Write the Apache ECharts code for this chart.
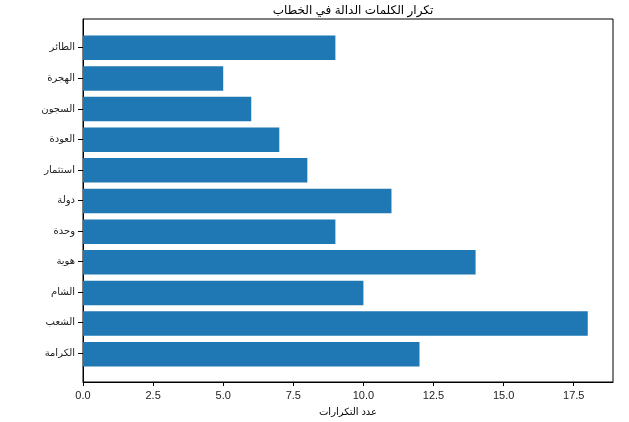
<!DOCTYPE html>
<html><head><meta charset="utf-8">
<script src="https://cdn.jsdelivr.net/npm/echarts@6/dist/echarts.min.js"></script>
<style>html,body{margin:0;padding:0;background:#fff}#c{width:629px;height:422px}</style>
</head><body><div id="c"></div>
<script>
var categories = ['الكرامة','الشعب','الشام','هوية','وحدة','دولة','استثمار','العودة','السجون','الهجرة','الطائر'];
var values = [12, 18, 10, 14, 9, 11, 8, 7, 6, 5, 9];
var xTicks = [0, 2.5, 5, 7.5, 10, 12.5, 15, 17.5];
var titleText = 'تكرار الكلمات الدالة في الخطاب';
var xName = 'عدد التكرارات';

var idx = categories.map(function(_, i){ return i; });
var font = 'Liberation Sans, DejaVu Sans, sans-serif';
var chart = echarts.init(document.getElementById('c'), null, {renderer:'canvas'});
chart.setOption({
  animation: false,
  title: {text: titleText, left: 348, textAlign: 'center', top: 0,
    textStyle: {fontFamily: font, fontSize: 12, fontWeight: 'normal', color: '#000'}},
  grid: [
    {left: 83, top: 19, right: 16, bottom: 39, show: true, borderColor: '#000', borderWidth: 1, backgroundColor: 'transparent'},
    {left: 83, top: 32.5, right: 16, bottom: 52.5}
  ],
  xAxis: [
    {type: 'value', gridIndex: 0, min: 0, max: 18.9, position: 'bottom',
      name: xName, nameLocation: 'middle', nameGap: 25,
      nameTextStyle: {fontFamily: font, fontSize: 10, color: '#000'},
      axisLine: {show: true, onZero: false, lineStyle: {color: '#000'}},
      axisTick: {show: true, length: 4, lineStyle: {color: '#000'}, customValues: xTicks},
      axisLabel: {customValues: xTicks, fontFamily: font, fontSize: 11, color: '#222', margin: 8,
        formatter: function(v){ return v.toFixed(1); }},
      splitLine: {show: false}},
    {type: 'value', gridIndex: 1, min: 0, max: 18.9, show: false}
  ],
  yAxis: [
    {type: 'value', gridIndex: 0, min: -0.94, max: 10.94, position: 'left',
      axisLine: {show: true, onZero: false, lineStyle: {color: '#000'}},
      axisTick: {show: true, inside: false, length: 5, lineStyle: {color: '#000', width: 1}, customValues: idx},
      axisLabel: {customValues: idx, fontFamily: font, fontSize: 10, color: '#222', margin: 8,
        formatter: function(v){ return categories[Math.round(v)]; }},
      splitLine: {show: false}},
    {type: 'category', gridIndex: 1, data: categories, boundaryGap: true, show: false}
  ],
  series: [{type: 'bar', xAxisIndex: 1, yAxisIndex: 1, barWidth: '80%',
    itemStyle: {color: '#1f77b4'},
    data: values}]
});
</script></body></html>
